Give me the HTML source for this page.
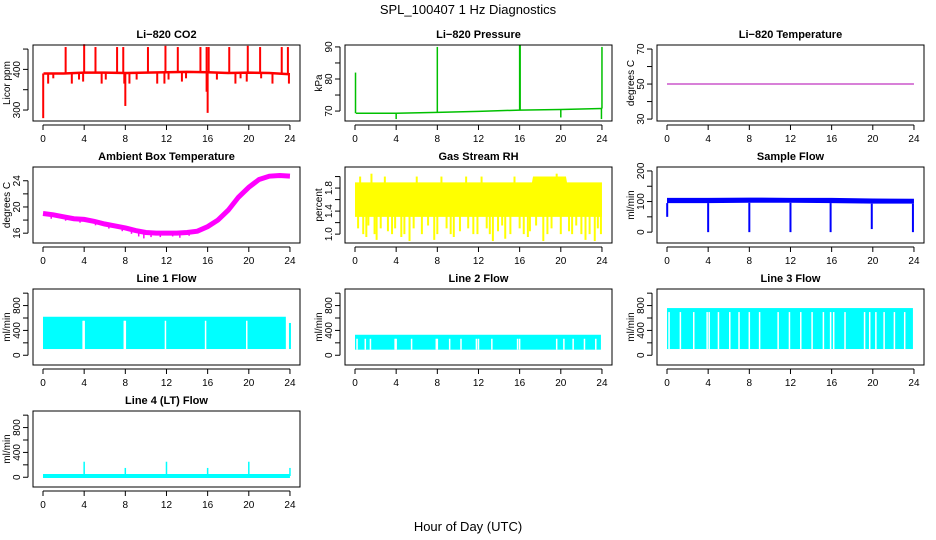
<!DOCTYPE html>
<html><head><meta charset="utf-8"><style>
body{margin:0;background:#fff}
svg{display:block;font-family:"Liberation Sans",sans-serif}
</style></head><body>
<svg id="chart" width="936" height="540" viewBox="0 0 936 540">
<text x="468" y="14" text-anchor="middle" font-size="13">SPL_100407  1 Hz Diagnostics</text>
<text x="468" y="531" text-anchor="middle" font-size="13">Hour of Day (UTC)</text>
</svg>
<script>
// ---- data ----
const xTicks = [0,4,8,12,16,20,24];
const co2BaseT = [0.05,2,4,6,8,10,12,14,16,18,20,22,24];
const co2BaseV = [390,390,392,392,391,392,393,394,393,391,392,391,388];
const co2SpikeT = [2.2,4.0,5.1,7.2,7.8,10.2,11.9,13.1,15.3,15.9,16.1,18.1,19.9,21.1,23.2,23.8];
const co2SpikeV = [455,462,455,455,455,455,458,455,455,455,455,455,458,455,455,455];
const co2DipT = [0.02,0.5,1.0,2.8,3.5,3.9,5.7,6.1,7.9,8.0,8.4,9.1,11.1,11.8,12.2,13.5,13.9,15.9,16.0,16.9,18.7,19.2,19.8,21.2,22.3,23.9];
const co2DipV = [280,365,378,365,375,370,365,375,365,310,365,375,365,365,375,370,378,345,293,375,365,378,370,378,365,365];
const presBaseT = [0.1,4,8,12,16,20,24];
const presBaseV = [69.3,69.3,69.6,69.9,70.3,70.5,70.8];
const presSpikeT = [0.05,8.0,16.0,16.05,24.0,4.0,20.0,23.95];
const presSpikeV = [82,90,90.5,90.5,90,67.5,68,67.5];
const tempT = [0,24];
const tempV = [50,50];
const ambT = [0,1,2,3,4,5,6,7,8,9,10,11,12,13,14,15,16,17,18,19,20,21,22,23,24];
const ambV = [19,18.8,18.5,18.2,18.1,17.8,17.4,17.1,16.8,16.4,16.1,16,16,16,16.1,16.3,17,18,19.5,21.5,23,24.2,24.7,24.8,24.7];
const ambDipT = [0.8,2.2,3.6,5.1,6.4,7.7,8.6,9.3,9.8,10.5,11.4,12.6,13.3,14.2];
const ambDipV = [18.2,17.9,17.6,17.2,16.7,16.3,15.9,15.5,15.2,15.4,15.4,15.5,15.3,15.6];
const rhT = [0,2,4,6,8,10,12,14,16,17.2,17.3,20.5,20.6,24];
const rhLo = [1.3,1.3,1.3,1.3,1.3,1.3,1.3,1.3,1.3,1.3,1.3,1.3,1.3,1.3];
const rhHi = [1.9,1.9,1.9,1.9,1.9,1.9,1.9,1.9,1.9,1.9,2.0,2.0,1.9,1.9];
const rhSpikeT = [0.5,1.1,1.6,2.1,2.9,3.6,4.5,5.3,6.0,7.7,8.4,9.6,10.8,11.5,12.3,13.4,14.6,15.5,16.8,18.3,19.6,21.1,22.4,23.3,
  0.3,0.8,1.3,1.9,2.5,3.2,3.9,4.8,5.7,6.5,7.1,8.0,8.9,9.3,10.2,11.0,11.9,12.8,13.1,13.9,14.3,15.1,16.0,16.4,17.0,17.6,18.7,19.1,20.0,20.8,21.5,22.0,22.8,23.6,23.9];
const rhSpikeV = [2.0,0.95,2.05,0.9,2.0,1.0,0.95,0.88,2.0,0.9,2.0,0.95,2.0,1.0,2.0,0.88,0.92,2.0,0.95,0.88,2.05,1.0,0.9,0.88,
  1.1,1.0,1.15,1.0,1.1,1.05,1.1,1.0,1.1,1.0,1.15,1.0,1.1,1.0,1.05,1.1,1.0,1.1,1.0,1.05,1.15,1.0,1.1,1.0,1.05,1.15,1.0,1.1,1.0,1.05,1.15,1.0,1.0,1.1,1.0];
const sfT = [0,4,8,12,16,20,24];
const sfLo = [95,95,96,96,95,93,93];
const sfHi = [112,112,113,112,112,110,109];
const sfDipT = [0.02,4.0,8.0,12.0,15.9,19.9,23.9];
const sfDipV = [50,0,0,0,0,10,0];
const l1Lo = 100, l1Hi = 620, l1End = 23.6;
const l1GapT = [3.9,4.0,7.9,8.0,11.9,15.8,19.8];
const l2Lo = 90, l2Hi = 330, l2End = 23.9;
const l2GapT = [0.2,1.0,1.5,3.9,4.0,5.5,7.9,8.0,9.2,10.3,11.8,12.0,13.3,15.8,16.0,19.6,20.3,21.2,22.3,23.4];
const l3Lo = 100, l3Hi = 760, l3End = 23.9;
const l3GapT = [0.2,1.3,2.6,3.9,4.1,5.0,6.1,7.0,8.0,9.0,10.8,11.9,13.0,14.1,15.2,15.9,16.2,17.3,19.2,19.7,20.3,21.1,22.1,23.1];
const l4Base = 20;
const l4SpikeT = [4,8,12,16,20,24];
const l4SpikeV = [250,150,250,150,250,150];

const NS = "http://www.w3.org/2000/svg";
const svg = document.getElementById('chart');
function mk(tag, attrs, parent) {
  const e = document.createElementNS(NS, tag);
  for (const k in attrs) e.setAttribute(k, attrs[k]);
  (parent || svg).appendChild(e);
  return e;
}

function panel(c, r, title, ylab, dom, yt, ylabels, name) {
  const L = 33 + 312 * c, T = 45 + 122 * r, W = 267, H = 76;
  const g = mk('g', {});
  
  
  const x = v => L + 10 + v * 10.29;
  const y = v => T + H - (v - dom[0]) / (dom[1] - dom[0]) * H;
  const t = mk('text', {x: L + W / 2, y: T - 7, 'text-anchor': 'middle', 'font-size': 11, 'font-weight': 'bold'}, g);
  t.textContent = title;
  
  
  const yl = mk('text', {transform: `translate(${L - 23},${T + H / 2}) rotate(-90)`, 'text-anchor': 'middle', 'font-size': 10}, g);
  yl.textContent = ylab;
  
  
  const yp = mk('line', {x1: L - 5, x2: L - 5, y1: y(yt[0]), y2: y(yt[yt.length - 1]), stroke: '#000'}, g);
  
  
  yt.forEach((v, i) => {
    mk('line', {x1: L - 10, x2: L - 5, y1: y(v), y2: y(v), stroke: '#000'}, g);
    if (ylabels[i] !== '') {
      const tl = mk('text', {transform: `translate(${L - 13},${y(v)}) rotate(-90)`, 'text-anchor': 'middle', 'font-size': 10}, g);
      tl.textContent = ylabels[i];
      
      
    }
  });
  const xp = mk('line', {x1: x(0), x2: x(24), y1: T + H + 4, y2: T + H + 4, stroke: '#000'}, g);
  
  
  xTicks.forEach(v => {
    mk('line', {x1: x(v), x2: x(v), y1: T + H + 4, y2: T + H + 9, stroke: '#000'}, g);
    const tl = mk('text', {x: x(v), y: T + H + 21, 'text-anchor': 'middle', 'font-size': 10}, g);
    tl.textContent = v;
    
    
  });
  const plot = mk('g', {}, g);
  const clip = mk('rect', {x: L, y: T, width: W, height: H, fill: 'none', stroke: '#000'}, g);
  
  
  return {x, y, g: plot, name};
}

function polyline(p, ts, vs, color, w) {
  const pts = ts.map((t, i) => p.x(t) + ',' + p.y(vs[i])).join(' ');
  const e = mk('polyline', {points: pts, fill: 'none', stroke: color, 'stroke-width': w}, p.g);
  
  
  return e;
}
function interp(ts, vs, t) {
  for (let i = 1; i < ts.length; i++) if (t <= ts[i]) {
    const f = (t - ts[i - 1]) / (ts[i] - ts[i - 1]); return vs[i - 1] + f * (vs[i] - vs[i - 1]);
  }
  return vs[vs.length - 1];
}
function spikes(p, ts, vs, baseT, baseV, color, w) {
  ts.forEach((t, i) => {
    const b = typeof baseV === 'number' ? baseV : interp(baseT, baseV, t);
    const e = mk('line', {x1: p.x(t), x2: p.x(t), y1: p.y(b), y2: p.y(vs[i]), stroke: color, 'stroke-width': w}, p.g);
    
    
  });
}
function band(p, ts, lo, hi, color) {
  const top = ts.map((t, i) => p.x(t) + ',' + p.y(hi[i]));
  const bot = ts.map((t, i) => p.x(t) + ',' + p.y(lo[i])).reverse();
  const e = mk('polygon', {points: top.concat(bot).join(' '), fill: color}, p.g);
  
  
}
function flowBand(p, lo, hi, end, gaps, color) {
  const e = mk('rect', {x: p.x(0), y: p.y(hi), width: p.x(end) - p.x(0), height: p.y(lo) - p.y(hi), fill: color}, p.g);
  
  
  gaps.forEach(t => {
    const gl = mk('line', {x1: p.x(t), x2: p.x(t), y1: p.y(hi) + 4, y2: p.y(lo), stroke: '#fff', 'stroke-width': 1.5}, p.g);
    
    
  });
}

const flowTicks = [0,200,400,600,800,1000];
const flowLabels = ['0','','400','','800',''];
const flowDom = [-157,1067];

// Row 1
let p = panel(0, 0, 'Li\u2212820 CO2', 'Licor ppm', [273,460], [300,350,400,450], ['300','','400',''], 'co2');
spikes(p, co2SpikeT, co2SpikeV, co2BaseT, co2BaseV, '#ff0000', 2);
spikes(p, co2DipT, co2DipV, co2BaseT, co2BaseV, '#ff0000', 2);
polyline(p, co2BaseT, co2BaseV, '#ff0000', 2.5);

p = panel(1, 0, 'Li\u2212820 Pressure', 'kPa', [66.9,90.6], [70,75,80,85,90], ['70','','80','','90'], 'pressure');
polyline(p, presBaseT, presBaseV, '#00c000', 1.5);
spikes(p, presSpikeT, presSpikeV, presBaseT, presBaseV, '#00c000', 1.5);

p = panel(2, 0, 'Li\u2212820 Temperature', 'degrees C', [28.9,72.3], [30,40,50,60,70], ['30','','50','','70'], 'li820-temperature');
polyline(p, tempT, tempV, '#b000b0', 1);

// Row 2
p = panel(0, 1, 'Ambient Box Temperature', 'degrees C', [14.5,26.1], [16,18,20,22,24], ['16','','20','','24'], 'ambient-temperature');
spikes(p, ambDipT, ambDipV, ambT, ambV, '#ff00ff', 1.5);
polyline(p, ambT, ambV, '#ff00ff', 5);

p = panel(1, 1, 'Gas Stream RH', 'percent', [0.846,2.166], [1.0,1.2,1.4,1.6,1.8,2.0], ['1.0','','1.4','','1.8',''], 'gas-stream-rh');
band(p, rhT, rhLo, rhHi, '#ffff00');
spikes(p, rhSpikeT, rhSpikeV, rhT, rhLo.map((v, i) => (v + rhHi[i]) / 2), '#ffff00', 2);

p = panel(2, 1, 'Sample Flow', 'ml/min', [-35.5,212.9], [0,50,100,150,200], ['0','','100','','200'], 'sample-flow');
band(p, sfT, sfLo, sfHi, '#0000ff');
spikes(p, sfDipT, sfDipV, sfT, sfLo, '#0000ff', 2);

// Row 3
p = panel(0, 2, 'Line 1 Flow', 'ml/min', flowDom, flowTicks, flowLabels, 'line1-flow');
flowBand(p, l1Lo, l1Hi, l1End, l1GapT, '#00ffff');
spikes(p, [24], [520], [0,24], [100,100], '#00ffff', 2);

p = panel(1, 2, 'Line 2 Flow', 'ml/min', flowDom, flowTicks, flowLabels, 'line2-flow');
flowBand(p, l2Lo, l2Hi, l2End, l2GapT, '#00ffff');

p = panel(2, 2, 'Line 3 Flow', 'ml/min', flowDom, flowTicks, flowLabels, 'line3-flow');
flowBand(p, l3Lo, l3Hi, l3End, l3GapT, '#00ffff');

// Row 4
p = panel(0, 3, 'Line 4 (LT) Flow', 'ml/min', flowDom, flowTicks, flowLabels, 'line4-flow');
polyline(p, [0,24], [l4Base,l4Base], '#00ffff', 4);
spikes(p, l4SpikeT, l4SpikeV, [0,24], [l4Base,l4Base], '#00ffff', 1.5);
</script>
</body></html>
